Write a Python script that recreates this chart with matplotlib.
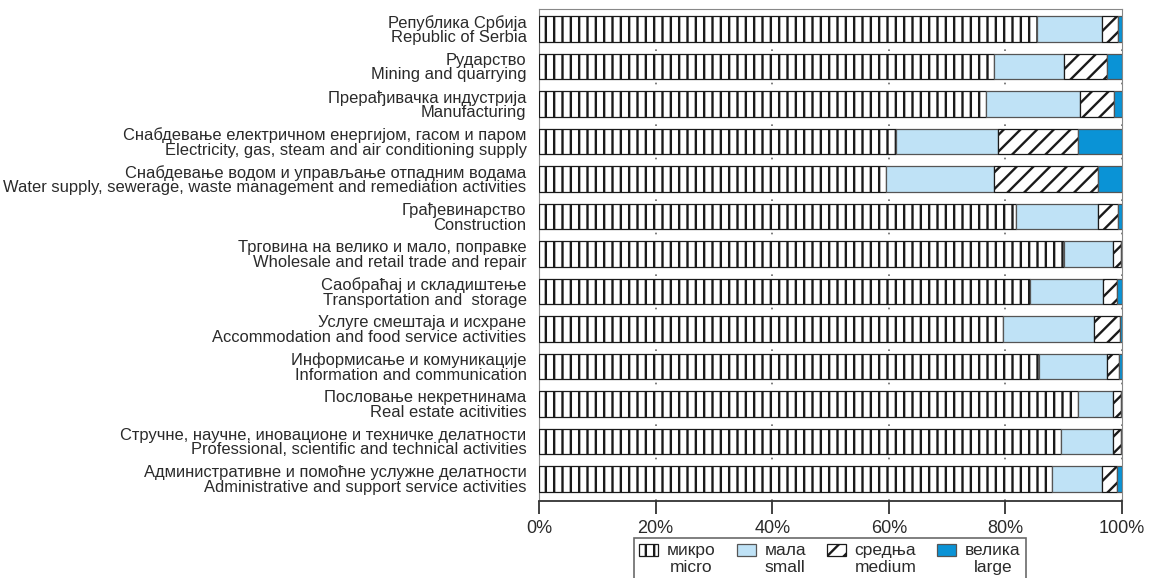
import numpy as np
import matplotlib
matplotlib.use("Agg")
import matplotlib.pyplot as plt
from matplotlib.ticker import PercentFormatter

plt.rcParams['font.family'] = ['Liberation Sans', 'DejaVu Sans']
plt.rcParams['hatch.linewidth'] = 1.7

# sectors, top to bottom
sectors_sr = ['Република Србија', 'Рударство', 'Прерађивачка индустрија',
              'Снабдевање електричном енергијом, гасом и паром',
              'Снабдевање водом и управљање отпадним водама',
              'Грађевинарство', 'Трговина на велико и мало, поправке',
              'Саобраћај и складиштење', 'Услуге смештаја и исхране',
              'Информисање и комуникације', 'Пословање некретнинама',
              'Стручне, научне, иновационе и техничке делатности',
              'Административне и помоћне услужне делатности']
sectors_en = ['Republic of Serbia', 'Mining and quarrying', 'Manufacturing',
              'Electricity, gas, steam and air conditioning supply',
              'Water supply, sewerage, waste management and remediation activities',
              'Construction', 'Wholesale and retail trade and repair',
              'Transportation and  storage', 'Accommodation and food service activities',
              'Information and communication', 'Real estate acitivities',
              'Professional, scientific and technical activities',
              'Administrative and support service activities']

# share of enterprises by size (%)
micro  = [85.4, 78.0, 76.7, 61.3, 59.6, 81.9, 90.1, 84.3, 79.6, 85.7, 92.5, 89.6, 88.0]
small  = [11.2, 12.1, 16.1, 17.5, 18.4, 13.9,  8.4, 12.4, 15.6, 11.8,  5.9,  8.9,  8.5]
medium = [ 2.7,  7.3,  5.8, 13.7, 17.8,  3.5,  1.4,  2.5,  4.4,  2.0,  1.5,  1.4,  2.6]
large  = [ 0.7,  2.6,  1.4,  7.5,  4.2,  0.7,  0.1,  0.8,  0.4,  0.5,  0.1,  0.1,  0.9]

size_labels = ['микро\nmicro', 'мала\nsmall', 'средња\nmedium', 'велика\nlarge']

fig = plt.figure(figsize=(11.51, 5.78), dpi=100)
ax = fig.add_axes([0.4683, 0.1332, 0.5065, 0.8518])

y = np.arange(len(sectors_en))
h = 0.685
left = np.zeros(len(y))
styles = [dict(color='white', edgecolor='#1a1a1a', hatch='||'),
          dict(color='#bfe2f6', edgecolor='#555555'),
          dict(color='white', edgecolor='#1a1a1a', hatch='//'),
          dict(color='#0a93d6', edgecolor='#555555')]
for vals, lab, st in zip([micro, small, medium, large], size_labels, styles):
    vals = np.array(vals)
    ax.barh(y, vals, left=left, height=h, label=lab, linewidth=0.9,
            zorder=3, **st)
    left += vals

ax.set_xlim(0, 100)
ax.set_ylim(12.59, -0.54)
ax.set_xticks([0, 20, 40, 60, 80, 100])
ax.xaxis.set_major_formatter(PercentFormatter(decimals=0))
ax.set_yticks(y)
ax.set_yticklabels([f'{a}\n{b}' for a, b in zip(sectors_sr, sectors_en)],
                   fontsize=11.9, linespacing=0.95, color='#2a2a2a')
ax.tick_params(axis='y', length=0, pad=9)
ax.tick_params(axis='x', length=9, width=1.3, color='#333333', labelsize=13,
               pad=5, labelcolor='#2a2a2a')
ax.grid(axis='x', linestyle=(0, (1, 4)), color='#666666', linewidth=1.2, zorder=0)
for side in ['top', 'right', 'left']:
    ax.spines[side].set_color('#888888')
ax.spines['bottom'].set_color('#333333')
ax.spines['bottom'].set_linewidth(1.3)

leg = fig.legend(loc='upper left', bbox_to_anchor=(634 / 1151, 1 - 538 / 578),
                 ncol=4, fontsize=12.5, frameon=True, fancybox=False,
                 edgecolor='#444444', handlelength=1.1, handleheight=0.75,
                 handletextpad=0.5, columnspacing=1.2, borderpad=0.3,
                 borderaxespad=0, labelspacing=0.2)
leg.get_frame().set_linewidth(1.2)
for t in leg.get_texts():
    t.set_multialignment('center')
    t.set_linespacing(1.15)
    t.set_color('#2a2a2a')
# lift the key boxes to the first (Serbian) text line
for p in leg.legend_handles:
    p.set_y(p.get_y() + 6.5)

fig.savefig('out.png', dpi=100)
